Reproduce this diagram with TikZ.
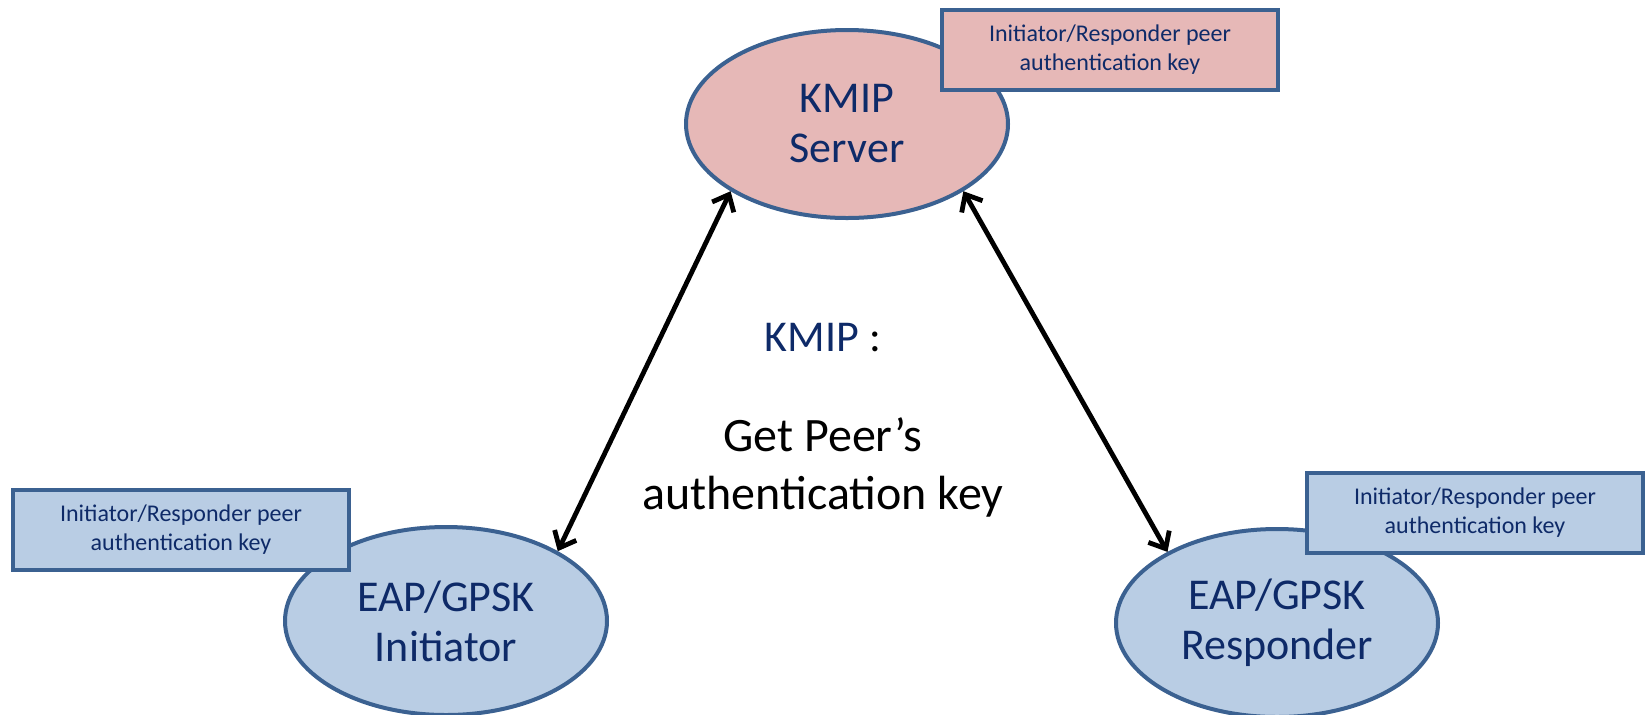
\documentclass[tikz,border=0pt]{standalone}
\usepackage{fontspec}
\setmainfont{Carlito}
\usetikzlibrary{arrows.meta,shapes.geometric}
\definecolor{edgeblue}{HTML}{3B6191}
\definecolor{serverfill}{HTML}{E6B8B7}
\definecolor{peerfill}{HTML}{B9CDE4}
\definecolor{navytext}{HTML}{0E2A68}
\tikzset{
  party/.style={ellipse, draw=edgeblue, line width=2pt, minimum width=161pt,
    minimum height=94pt, inner sep=0pt, align=center, text=navytext,
    font=\fontsize{22}{25}\selectfont},
  keybox/.style={rectangle, draw=edgeblue, line width=2pt, minimum width=168pt,
    minimum height=40pt, inner sep=0pt, align=center, text=navytext,
    font=\fontsize{12}{14.5}\selectfont},
  link/.style={black, line width=2.4pt,
    {Straight Barb[length=7pt,width=12pt]}-{Straight Barb[length=7pt,width=12pt]}}
}
\begin{document}
\begin{tikzpicture}[x=0.5pt,y=-0.5pt]
\useasboundingbox (0,0) rectangle (1645,714);
% the three parties
\node[party, fill=serverfill] (kmip) at (847,124) {KMIP\\Server};
\node[party, fill=peerfill] (init) at (446,621) {EAP/GPSK\\Initiator};
\node[party, fill=peerfill] (resp) at (1277,623) {EAP/GPSK\\Responder};
% key held by each party
\node[keybox, fill=serverfill] (kkey) at (1110,50) {Initiator/Responder peer\\authentication key};
\node[keybox, fill=peerfill] (ikey) at (181,530) {Initiator/Responder peer\\authentication key};
\node[keybox, fill=peerfill] (rkey) at (1475,513) {Initiator/Responder peer\\authentication key};
% protocol exchanges
\draw[link] (kmip.210) -- (init.32);
\draw[link] (kmip.330) -- (resp.147);
% operation label
\node[font=\fontsize{22}{25}\selectfont] (op) at (823,338) {\textcolor{navytext}{KMIP} :};
\node[font=\fontsize{24}{29}\selectfont, align=center] (get) at (823,467) {Get Peer’s\\authentication key};
\end{tikzpicture}
\end{document}
